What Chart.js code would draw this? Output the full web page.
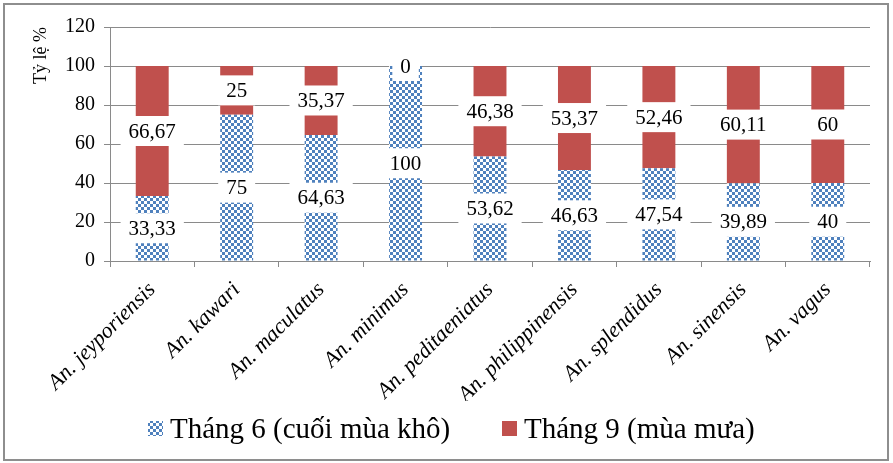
<!DOCTYPE html>
<html lang="vi">
<head>
<meta charset="utf-8">
<title>Tỷ lệ loài Anopheles theo mùa</title>
<script src="https://cdn.jsdelivr.net/npm/chart.js@4.4.1/dist/chart.umd.min.js"></script>
<style>
  html, body { margin: 0; padding: 0; background: #fff; }
  #wrap { position: relative; width: 893px; height: 463px; overflow: hidden; }
  #frame {
    position: absolute; left: 3px; top: 3px; width: 882px; height: 454px;
    border: 2px solid #8e8e8e; pointer-events: none;
  }
  canvas { display: block; }
  /* warms up the serif faces so the canvas can use them */
  .warm { position: absolute; left: -9999px; top: 0; font-family: "Liberation Serif", "Times New Roman", serif; }
</style>
</head>
<body>
<div id="wrap">
  <canvas id="c" width="893" height="463"></canvas>
  <div id="frame"></div>
</div>
<span class="warm">Tháng 6 (cuối mùa khô) 0123456789</span>
<span class="warm" style="font-style:italic">An. jeyporiensis</span>
<script>
// Species sampled
const categories = [
  'An. jeyporiensis', 'An. kawari', 'An. maculatus', 'An. minimus',
  'An. peditaeniatus', 'An. philippinensis', 'An. splendidus',
  'An. sinensis', 'An. vagus'
];
// Share (%) collected in June, end of the dry season
const juneShare = [33.33, 75, 64.63, 100, 53.62, 46.63, 47.54, 39.89, 40];
// Share (%) collected in September, rainy season
const septShare = [66.67, 25, 35.37, 0, 46.38, 53.37, 52.46, 60.11, 60];
const seriesNames = ['Tháng 6 (cuối mùa khô)', 'Tháng 9 (mùa mưa)'];
const axisTitle = 'Tỷ lệ %';

const SERIF = '"Liberation Serif", "Times New Roman", serif';
const BLUE = '#4F81BD';
const RED = '#C0504D';
const GRID = '#8a8a8a';

Chart.defaults.font.family = SERIF;
Chart.defaults.color = '#000';

const canvas = document.getElementById('c');
const ctx = canvas.getContext('2d');

// blue/white checkerboard fill for the June series
function checker(color) {
  const tile = document.createElement('canvas');
  tile.width = 6; tile.height = 6;
  const t = tile.getContext('2d');
  t.fillStyle = '#fff';
  t.fillRect(0, 0, 6, 6);
  t.fillStyle = color;
  t.fillRect(0, 0, 3, 3);
  t.fillRect(3, 3, 3, 3);
  return ctx.createPattern(tile, 'repeat');
}
const juneFill = checker(BLUE);

const fmt = v => String(v).replace('.', ',');

// value labels in white boxes, centred on each segment
const valueLabels = {
  id: 'valueLabels',
  afterDatasetsDraw(chart) {
    const c = chart.ctx;
    c.save();
    c.font = '21px ' + SERIF;
    c.textAlign = 'center';
    c.textBaseline = 'middle';
    chart.data.datasets.forEach((ds, di) => {
      const meta = chart.getDatasetMeta(di);
      meta.data.forEach((bar, i) => {
        const txt = fmt(ds.data[i]);
        const cy = (bar.y + bar.base) / 2;
        const w = c.measureText(txt).width + 16;
        const h = 30;
        c.fillStyle = '#fff';
        c.fillRect(bar.x - w / 2, cy - h / 2, w, h);
        c.fillStyle = '#000';
        c.fillText(txt, bar.x, cy + 1);
      });
    });
    c.restore();
  }
};

// legend row under the axis labels
const bottomLegend = {
  id: 'bottomLegend',
  afterDraw(chart) {
    const c = chart.ctx;
    const items = [
      { x: 148, fill: juneFill, text: chart.data.datasets[0].label },
      { x: 502, fill: RED, text: chart.data.datasets[1].label }
    ];
    const cy = 429;
    c.save();
    c.font = '29px ' + SERIF;
    c.textBaseline = 'middle';
    c.textAlign = 'left';
    items.forEach(it => {
      c.fillStyle = it.fill;
      c.fillRect(it.x, cy - 8, 15, 15);
      c.fillStyle = '#000';
      c.fillText(it.text, it.x + 22, cy + 1);
    });
    c.restore();
  }
};

function draw() {
  new Chart(canvas, {
    type: 'bar',
    data: {
      labels: categories,
      datasets: [
        { label: seriesNames[0], data: juneShare, backgroundColor: juneFill, borderWidth: 0 },
        { label: seriesNames[1], data: septShare, backgroundColor: RED, borderWidth: 0 }
      ]
    },
    options: {
      responsive: false,
      animation: false,
      devicePixelRatio: 1,
      layout: { padding: { left: 0, right: 23, top: 27, bottom: 62 } },
      categoryPercentage: 1,
      barPercentage: 0.39,
      plugins: {
        legend: { display: false },
        tooltip: { enabled: false }
      },
      scales: {
        x: {
          stacked: true,
          afterFit(scale) { scale.height = 140; },
          border: { display: true, color: GRID, width: 1 },
          grid: { display: true, drawOnChartArea: false, offset: true, tickLength: 6, color: GRID },
          ticks: {
            font: { size: 22, style: 'italic' },
            color: '#000',
            minRotation: 45,
            maxRotation: 45,
            padding: 10
          }
        },
        y: {
          stacked: true,
          min: 0,
          max: 120,
          afterFit(scale) { scale.width = 110; },
          border: { display: true, color: GRID, width: 1 },
          grid: { color: GRID, tickLength: 6 },
          ticks: { stepSize: 20, font: { size: 20 }, color: '#000', padding: 9 },
          title: {
            display: true,
            text: axisTitle,
            align: 'end',
            font: { size: 18 },
            color: '#000',
            padding: { top: 30, bottom: 0 }
          }
        }
      }
    },
    plugins: [valueLabels, bottomLegend]
  });
}

const faces = [
  '21px "Liberation Serif"',
  'italic 22px "Liberation Serif"',
  '29px "Liberation Serif"'
];
Promise.all(faces.map(f => document.fonts.load(f, 'Tháng 6 An.'))).then(draw, draw);
</script>
</body>
</html>
